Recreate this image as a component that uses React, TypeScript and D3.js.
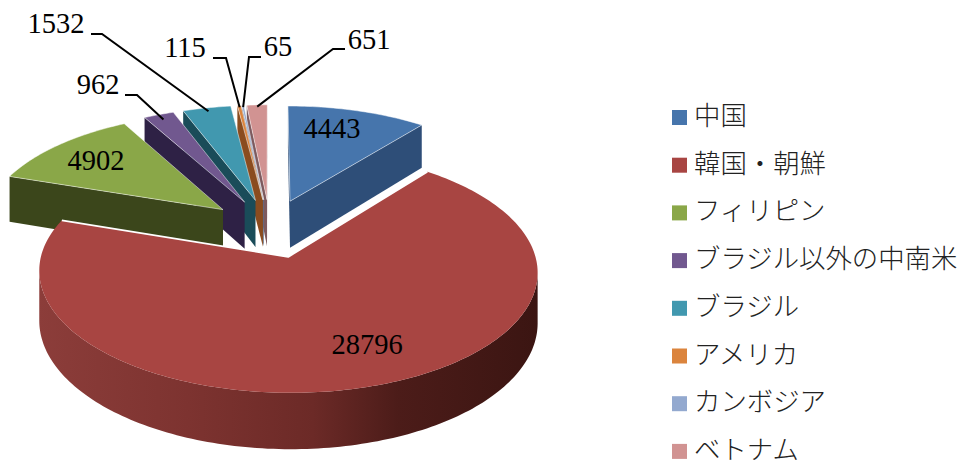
import React from "react";
import * as d3 from "d3";

// Foreign resident counts by nationality, clockwise from twelve o'clock
const categories = ["中国", "韓国・朝鮮", "フィリピン", "ブラジル以外の中南米", "ブラジル", "アメリカ", "カンボジア", "ベトナム"];
const counts = [4443, 28796, 4902, 962, 1532, 115, 65, 651];
const valueLabels = ["4443", "28796", "4902", "962", "1532", "115", "65", "651"];

const topColors = ["#4675ac", "#a84542", "#8aa748", "#71588f", "#4198af", "#db843d", "#93a9cf", "#d19392"];
const wallColors = ["#2e4e78", "#6e2a28", "#3b461b", "#2e2145", "#1a4c59", "#8a4c1f", "#5d6c88", "#7d5a5e"];

// Painter's order: back slices first, the large front slice last
const drawOrder = [7, 6, 5, 4, 3, 2, 0, 1];

const WIDTH = 961;
const HEIGHT = 461;

// Oblique projection with a little perspective toward the viewer
const CX = 270;
const CY = 228;
const RADIUS_X = 240;
const RADIUS_Y = 112.4;
const DEPTH = 48;
const PERSPECTIVE = 0.1185;
const EXPLODE = 0.26;

type Pt = [number, number];

const project = (x: number, y: number, z: number): Pt => {
  const w = 1 / (1 - PERSPECTIVE * y);
  return [CX + RADIUS_X * x * w, CY + RADIUS_Y * y * w + DEPTH * z * w];
};

const signedArea = (pts: Pt[]) => {
  let s = 0;
  pts.forEach((p, i) => {
    const q = pts[(i + 1) % pts.length];
    s += p[0] * q[1] - q[0] * p[1];
  });
  return s;
};

const arcs = d3.pie<number>().sort(null).value((d) => d)(counts);

const line = d3.line<Pt>().x((d) => d[0]).y((d) => d[1]);
const closed = (pts: Pt[]) => line(pts) + "Z";

const sliceGeometry = (i: number) => {
  const a = arcs[i];
  const mid = (a.startAngle + a.endAngle) / 2;
  const ox = Math.sin(mid) * EXPLODE;
  const oy = -Math.cos(mid) * EXPLODE;
  const steps = Math.max(2, Math.ceil((a.endAngle - a.startAngle) / 0.02));
  const angles = d3.range(steps + 1).map((k) => a.startAngle + ((a.endAngle - a.startAngle) * k) / steps);
  const rim = angles.map((t) => ({ x: ox + Math.sin(t), y: oy - Math.cos(t) }));
  const rimTop = rim.map((p) => project(p.x, p.y, 0));
  const rimBottom = rim.map((p) => project(p.x, p.y, 1));
  const apexTop = project(ox, oy, 0);
  const apexBottom = project(ox, oy, 1);
  return { ox, oy, mid, rimTop, rimBottom, apexTop, apexBottom };
};

// Leader lines and text anchors for each value label
const labelLayout = [
  { x: 332, y: 138 },
  { x: 367, y: 354 },
  { x: 96, y: 170 },
  { x: 98, y: 94, elbow: [[125, 95], [137, 95]] as Pt[], rimShift: 0.94 },
  { x: 56, y: 33, elbow: [[91, 34], [102, 34]] as Pt[], rimShift: 0.96 },
  { x: 185, y: 57, elbow: [[213, 58], [226, 58]] as Pt[], rimShift: 0.98 },
  { x: 278, y: 56, elbow: [[261, 57], [249, 57]] as Pt[], rimShift: 0.98 },
  { x: 369, y: 49, elbow: [[345, 49], [333, 49]] as Pt[], rimShift: 0.98 },
];

const LEGEND_X = 672;
const LEGEND_TOP = 110;
const LEGEND_STEP = 47.7;
const SWATCH = 15;

const Slice = ({ index }: { index: number }) => {
  const g = sliceGeometry(index);
  const n = g.rimTop.length;
  const startWall: Pt[] = [g.apexTop, g.rimTop[0], g.rimBottom[0], g.apexBottom];
  const endWall: Pt[] = [g.rimTop[n - 1], g.apexTop, g.apexBottom, g.rimBottom[n - 1]];

  // Keep only the run of outer-wall segments that faces the viewer
  const facing = d3
    .range(n - 1)
    .filter((k) => signedArea([g.rimTop[k], g.rimTop[k + 1], g.rimBottom[k + 1], g.rimBottom[k]]) < 0);
  const wallFill = index === 1 ? "url(#frontWall)" : wallColors[index];
  const outer: Pt[] = facing.length
    ? [
        ...g.rimTop.slice(facing[0], facing[facing.length - 1] + 2),
        ...g.rimBottom.slice(facing[0], facing[facing.length - 1] + 2).reverse(),
      ]
    : [];
  const top: Pt[] = [g.apexTop, ...g.rimTop];
  const isFront = index === 1;

  return (
    <g>
      {signedArea(startWall) < 0 && <path d={closed(startWall)} fill={wallColors[index]} />}
      {signedArea(endWall) < 0 && <path d={closed(endWall)} fill={wallColors[index]} />}
      {outer.length > 0 && <path d={closed(outer)} fill={wallFill} />}
      <path
        d={closed(top)}
        fill={topColors[index]}
        stroke={isFront ? "none" : "#ffffff"}
        strokeOpacity={0.6}
        strokeWidth={0.8}
        strokeLinejoin="round"
      />
      {/* The front slice only carries its light edge along the notch */}
      {isFront && (
        <path
          d={line([g.rimTop[0], g.apexTop, g.rimTop[n - 1]]) ?? ""}
          fill="none"
          stroke="#ffffff"
          strokeWidth={1.8}
          strokeLinejoin="round"
        />
      )}
    </g>
  );
};

const Leader = ({ index }: { index: number }) => {
  const layout = labelLayout[index];
  if (!layout.elbow) return null;
  const g = sliceGeometry(index);
  const s = layout.rimShift;
  const end = project(g.ox + Math.sin(g.mid) * s, g.oy - Math.cos(g.mid) * s, 0);
  return <path d={line([...layout.elbow, end]) ?? ""} fill="none" stroke="#000" strokeWidth={2} />;
};

export default function App() {
  return (
    <svg
      width={WIDTH}
      height={HEIGHT}
      viewBox={`0 0 ${WIDTH} ${HEIGHT}`}
      style={{ position: "absolute", left: 0, top: 0, display: "block", background: "#fff" }}
    >
      <defs>
        <linearGradient id="frontWall" gradientUnits="userSpaceOnUse" x1={38} x2={538} y1={0} y2={0}>
          <stop offset="0" stopColor="#8c3d3a" />
          <stop offset="0.3" stopColor="#7d3330" />
          <stop offset="0.55" stopColor="#6c2a27" />
          <stop offset="0.72" stopColor="#4c1c19" />
          <stop offset="1" stopColor="#3b1512" />
        </linearGradient>
      </defs>

      {drawOrder.map((i) => (
        <Slice key={categories[i]} index={i} />
      ))}

      {counts.map((_, i) => (
        <Leader key={i} index={i} />
      ))}

      {valueLabels.map((label, i) => (
        <text
          key={label}
          x={labelLayout[i].x}
          y={labelLayout[i].y}
          textAnchor="middle"
          fontFamily="'Liberation Serif', serif"
          fontSize={28.5}
          fill="#000"
        >
          {label}
        </text>
      ))}

      {categories.map((name, i) => {
        const y = LEGEND_TOP + i * LEGEND_STEP;
        return (
          <g key={name}>
            <rect x={LEGEND_X} y={y} width={SWATCH} height={SWATCH} fill={topColors[i]} />
            <text
              x={LEGEND_X + 22}
              y={y + 15}
              fontFamily="'Noto Sans CJK JP', sans-serif"
              fontSize={26.4}
              fontWeight={300}
              fill="#222"
            >
              {name}
            </text>
          </g>
        );
      })}
    </svg>
  );
}
